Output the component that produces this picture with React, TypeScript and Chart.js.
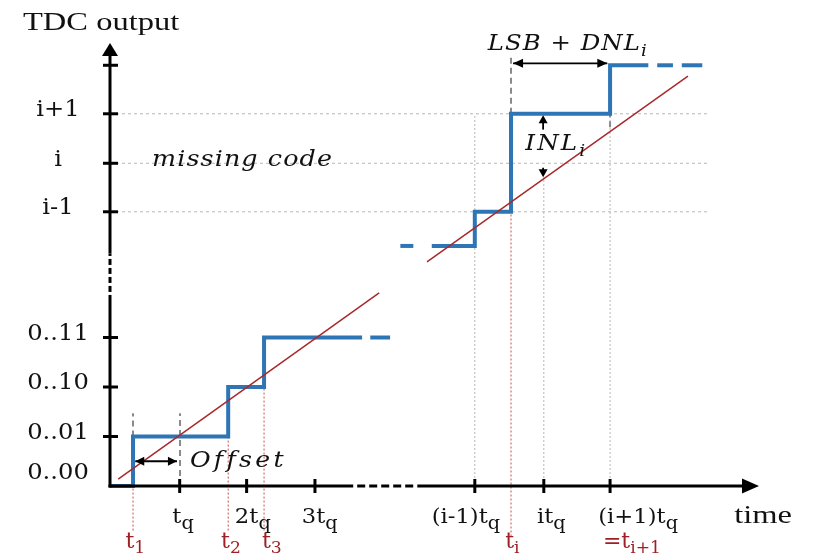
import React, { useEffect, useRef } from 'react';
import { Chart, registerables } from 'chart.js';
Chart.register(...registerables);

type P = [number, number];

// ---- axis ticks (x in units of t_q, y in units of LSB) ----
const xTickValues = [1.02, 2.0, 3.0, 5.34, 6.35, 7.32];
const xTickMain = ['t', '2t', '3t', '(i-1)t', 'it', '(i+1)t'];
const xTickSub = ['q', 'q', 'q', 'q', 'q', 'q'];
const xLabelCenters = [1.07, 2.09, 3.07, 5.21, 6.46, 7.73];

const yTickValues = [1, 2, 3, 5.54, 6.52, 7.52, 8.5];
const yLabelValues = [0.26, 1.07, 2.07, 3.07, 5.61, 6.59, 7.6];
const yTickLabels = ['0..00', '0..01', '0..10', '0..11', 'i-1', 'i', 'i+1'];

// transition instants (red)
const tInstants = [0.337, 1.73, 2.255, 5.87];
const tInstantLevels = [1, 1, 2, 5.54];
const tLabelMain = ['t', 't', 't', 't', '=t'];
const tLabelSub = ['1', '2', '3', 'i', 'i+1'];
const tLabelCenters = [0.37, 1.77, 2.37, 5.89, 7.64];

// ---- TDC transfer characteristic (blue staircase) ----
const stairLow: P[] = [[0, 0], [0.337, 0], [0.337, 1], [1.73, 1], [1.73, 2], [2.255, 2], [2.255, 3], [3.69, 3]];
const stairLowTail: P[] = [[3.81, 3], [4.1, 3]];
const stairHighHead: P[] = [[4.25, 4.85], [4.44, 4.85]];
const stairHigh: P[] = [[4.71, 4.85], [5.34, 4.85], [5.34, 5.54], [5.87, 5.54], [5.87, 7.52], [7.32, 7.52], [7.32, 8.5], [7.88, 8.5]];
const stairHighTail1: P[] = [[8.01, 8.5], [8.24, 8.5]];
const stairHighTail2: P[] = [[8.37, 8.5], [8.67, 8.5]];

// ---- ideal transfer line (red) ----
const idealLow: P[] = [[0.12, 0.14], [3.94, 3.9]];
const idealHigh: P[] = [[4.64, 4.53], [8.46, 8.28]];

// ---- reference lines ----
const gridLevels = [5.54, 6.52, 7.52];
const gridRight = 8.78;
const gridTimes: P[] = [[5.34, 7.52], [6.35, 6.24], [7.32, 7.52]];
const grayMarks: [number, number, number][] = [[0.337, 1, 1.47], [1.025, 0, 1.47], [5.87, 7.52, 8.65], [7.32, 7.25, 8.5]];
const instantBottom = [-0.9, -0.9, -0.9, -1.02];

// broken sections of the axes
const yBreak: P = [3.86, 4.7];
const xBreak: P = [3.56, 4.5];

const BLUE = '#2e75b6';
const RED = '#a8292b';
const REDTXT = '#9e1f24';
const REDDOT = '#c8504d';
const GRAY = '#8a8a8a';
const GRID = '#b8b8b8';
const SERIF = '"Liberation Serif", "Times New Roman", serif';
const TICK = '"DejaVu Serif", serif';
const MATH = '"DejaVu Serif", serif';

function seg(points: P[], color: string, width: number, dash: number[], order: number) {
  return {
    data: points.map(([x, y]) => ({ x, y })),
    showLine: true,
    borderColor: color,
    backgroundColor: color,
    borderWidth: width,
    borderDash: dash,
    borderJoinStyle: 'miter',
    borderCapStyle: 'butt',
    pointRadius: 0,
    pointHoverRadius: 0,
    fill: false,
    tension: 0,
    order,
    clip: false,
  };
}

type Part = { t: string; sub?: boolean };

function rich(
  ctx: CanvasRenderingContext2D,
  parts: Part[],
  x: number,
  y: number,
  o: { size: number; family: string; italic?: boolean; color: string; sx: number; align: 'left' | 'center' | 'right'; fitWidth?: number; subScale?: number; spacing?: number }
) {
  const subScale = o.subScale ?? 0.75;
  const fontFor = (p: Part) => `${o.italic ? 'italic ' : ''}${p.sub ? o.size * subScale : o.size}px ${o.family}`;
  ctx.save();
  (ctx as any).letterSpacing = `${o.spacing ?? 0}px`;
  const widths = parts.map((p) => {
    ctx.font = fontFor(p);
    return ctx.measureText(p.t).width;
  });
  const raw = widths.reduce((a, b) => a + b, 0);
  const sx = o.fitWidth ? o.fitWidth / raw : o.sx;
  const total = raw * sx;
  const start = o.align === 'center' ? x - total / 2 : o.align === 'right' ? x - total : x;
  ctx.translate(start, y);
  ctx.scale(sx, 1);
  ctx.fillStyle = o.color;
  ctx.textAlign = 'left';
  ctx.textBaseline = 'middle';
  let cx = 0;
  parts.forEach((p, i) => {
    ctx.font = fontFor(p);
    ctx.fillText(p.t, cx, p.sub ? o.size * 0.32 : 0);
    cx += widths[i];
  });
  ctx.restore();
}

function head(ctx: CanvasRenderingContext2D, x: number, y: number, ang: number, len: number, half: number) {
  ctx.save();
  ctx.translate(x, y);
  ctx.rotate(ang);
  ctx.beginPath();
  ctx.moveTo(0, 0);
  ctx.lineTo(-len, -half);
  ctx.lineTo(-len, half);
  ctx.closePath();
  ctx.fill();
  ctx.restore();
}

function line(ctx: CanvasRenderingContext2D, x1: number, y1: number, x2: number, y2: number) {
  ctx.beginPath();
  ctx.moveTo(x1, y1);
  ctx.lineTo(x2, y2);
  ctx.stroke();
}

// explicit dashes (short solid pieces)
function dashed(ctx: CanvasRenderingContext2D, x1: number, y1: number, x2: number, y2: number, on: number, off: number) {
  const len = Math.hypot(x2 - x1, y2 - y1);
  const ux = (x2 - x1) / len;
  const uy = (y2 - y1) / len;
  for (let d = 0; d < len; d += on + off) {
    const e = Math.min(d + on, len);
    line(ctx, x1 + ux * d, y1 + uy * d, x1 + ux * e, y1 + uy * e);
  }
}

const overlay = {
  id: 'tdcOverlay',
  afterDatasetsDraw(chart: any) {
    const ctx: CanvasRenderingContext2D = chart.ctx;
    const xs = chart.scales.x;
    const ys = chart.scales.y;
    const X = (v: number) => xs.getPixelForValue(v);
    const Y = (v: number) => ys.getPixelForValue(v);
    const x0 = X(0);
    const y0 = Y(0);
    const top = chart.chartArea.top;
    const right = chart.chartArea.right;

    ctx.save();
    ctx.setLineDash([]);
    ctx.strokeStyle = '#000';
    ctx.fillStyle = '#000';
    ctx.lineWidth = 3;
    ctx.lineCap = 'butt';
    // y axis
    line(ctx, x0, y0 + 1.5, x0, Y(yBreak[0]));
    dashed(ctx, x0, Y(yBreak[0]) - 3, x0, Y(yBreak[1]), 6, 3);
    line(ctx, x0, Y(yBreak[1]), x0, top + 10);
    head(ctx, x0, top, -Math.PI / 2, 13, 8);
    // x axis
    line(ctx, x0 - 1.5, y0, X(xBreak[0]), y0);
    dashed(ctx, X(xBreak[0]) + 4, y0, X(xBreak[1]), y0, 8, 4);
    line(ctx, X(xBreak[1]), y0, right - 10, y0);
    head(ctx, right, y0, 0, 17, 7.5);
    // ticks
    yTickValues.forEach((v) => line(ctx, x0 - 7, Y(v), x0 + 8, Y(v)));
    xTickValues.forEach((v) => line(ctx, X(v), y0 - 7, X(v), y0 + 7));
    ctx.restore();

    // y tick labels
    yTickLabels.forEach((lab, i) => {
      rich(ctx, [{ t: lab }], 58, Y(yLabelValues[i]), { size: 22, family: TICK, color: '#111', sx: 1.1, align: 'center' });
    });
    // x tick labels
    xTickMain.forEach((m, i) => {
      rich(ctx, [{ t: m }, { t: xTickSub[i], sub: true }], X(xLabelCenters[i]), Y(-0.64), { size: 21, family: TICK, color: '#111', sx: 1.08, align: 'center', subScale: 0.85 });
    });
    // red instant labels
    tLabelMain.forEach((m, i) => {
      rich(ctx, [{ t: m }, { t: tLabelSub[i], sub: true }], X(tLabelCenters[i]), Y(-1.13), { size: 22, family: TICK, color: REDTXT, sx: 1.0, align: 'center', subScale: 0.78 });
    });
    // titles
    rich(ctx, [{ t: 'TDC output' }], 23, 23, { size: 25, family: SERIF, color: '#111', sx: 1.3, align: 'left' });
    rich(ctx, [{ t: 'time' }], X(9.56), Y(-0.62), { size: 25, family: SERIF, color: '#111', sx: 1.3, align: 'center' });

    // annotations
    rich(ctx, [{ t: 'missing code' }], X(0.615), Y(6.59), { size: 23, family: MATH, italic: true, color: '#111', sx: 1, align: 'left', fitWidth: 181, spacing: 1 });
    rich(ctx, [{ t: 'Offset' }], X(1.17), Y(0.5), { size: 23, family: MATH, italic: true, color: '#111', sx: 1, align: 'left', fitWidth: 97, spacing: 3 });
    rich(ctx, [{ t: 'LSB + DNL' }, { t: 'i', sub: true }], X(5.53), Y(8.92), { size: 23, family: MATH, italic: true, color: '#111', sx: 1, align: 'left', fitWidth: 160, spacing: 1 });
    rich(ctx, [{ t: 'INL' }, { t: 'i', sub: true }], X(6.08), Y(6.9), { size: 23, family: MATH, italic: true, color: '#111', sx: 1, align: 'left', fitWidth: 62, spacing: 2 });

    // arrows
    ctx.save();
    ctx.setLineDash([]);
    ctx.strokeStyle = '#000';
    ctx.fillStyle = '#000';
    ctx.lineWidth = 1.8;
    // offset double arrow (t1 -> tq)
    line(ctx, X(0.37), Y(0.5), X(0.98), Y(0.5));
    head(ctx, X(0.37), Y(0.5), Math.PI, 9, 4.5);
    head(ctx, X(0.98), Y(0.5), 0, 9, 4.5);
    // LSB + DNL double arrow
    line(ctx, X(5.9), Y(8.54), X(7.28), Y(8.54));
    head(ctx, X(5.9), Y(8.54), Math.PI, 10, 4.5);
    head(ctx, X(7.28), Y(8.54), 0, 10, 4.5);
    // INL arrows
    line(ctx, X(6.34), Y(7.2), X(6.34), Y(7.45));
    head(ctx, X(6.34), Y(7.49), -Math.PI / 2, 8, 4.5);
    line(ctx, X(6.34), Y(6.43), X(6.34), Y(6.28));
    head(ctx, X(6.34), Y(6.24), Math.PI / 2, 8, 4.5);
    ctx.restore();
  },
};

export default function App() {
  const ref = useRef<HTMLCanvasElement>(null);
  useEffect(() => {
    document.body.style.margin = '0';
    const canvas = ref.current!;
    const datasets: any[] = [];
    gridLevels.forEach((lv) => datasets.push(seg([[0, lv], [gridRight, lv]], GRID, 1, [3, 3], 20)));
    gridTimes.forEach(([x, t]) => datasets.push(seg([[x, 0], [x, t]], GRID, 1, [2, 2], 20)));
    tInstants.forEach((x, i) => datasets.push(seg([[x, instantBottom[i]], [x, tInstantLevels[i]]], REDDOT, 1, [2, 2], 18)));
    grayMarks.forEach(([x, a, b]) => datasets.push(seg([[x, a], [x, b]], GRAY, 2, [6, 4], 16)));
    datasets.push(seg(stairLow, BLUE, 4, [], 10));
    datasets.push(seg(stairLowTail, BLUE, 4, [], 10));
    datasets.push(seg(stairHighHead, BLUE, 4, [], 10));
    datasets.push(seg(stairHigh, BLUE, 4, [], 10));
    datasets.push(seg(stairHighTail1, BLUE, 4, [], 10));
    datasets.push(seg(stairHighTail2, BLUE, 4, [], 10));
    datasets.push(seg(idealLow, RED, 1.5, [], 2));
    datasets.push(seg(idealHigh, RED, 1.5, [], 2));

    const chart = new Chart(canvas, {
      type: 'scatter',
      data: { datasets },
      options: {
        animation: false,
        responsive: false,
        maintainAspectRatio: false,
        layout: { padding: { left: 110, right: 64, top: 43, bottom: 68 } },
        scales: {
          x: { type: 'linear', min: 0, max: 9.5, display: false },
          y: { type: 'linear', min: 0, max: 8.95, display: false },
        },
        plugins: { legend: { display: false }, tooltip: { enabled: false } },
        events: [],
      },
      plugins: [overlay],
    } as any);
    return () => chart.destroy();
  }, []);
  return (
    <div style={{ width: 823, height: 554, background: '#fff' }}>
      <canvas ref={ref} width={823} height={554} style={{ display: 'block' }} />
    </div>
  );
}
